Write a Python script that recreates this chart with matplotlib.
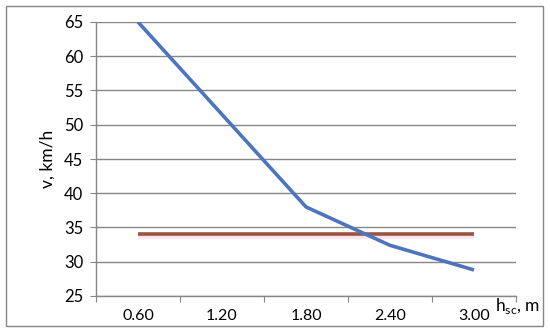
import numpy as np
import matplotlib
matplotlib.use("Agg")
import matplotlib.pyplot as plt
from matplotlib.patches import Rectangle

plt.rcParams['font.family'] = ['Lato', 'DejaVu Sans']
plt.rcParams['mathtext.fontset'] = 'custom'
plt.rcParams['mathtext.rm'] = 'Lato'

# data
categories = ["0.60", "1.20", "1.80", "2.40", "3.00"]
speed = [65.0, 51.5, 38.0, 32.4, 28.8]
limit = [34.0, 34.0, 34.0, 34.0, 34.0]
yticks = [25, 30, 35, 40, 45, 50, 55, 60, 65]

fig = plt.figure(figsize=(5.5, 3.32), dpi=100)
ax = fig.add_axes([96/550, 1 - 296/332, 420/550, 274/332])

x = np.arange(len(categories))
ax.plot(x, limit, color="#FDE6F0", lw=4.5, solid_capstyle="butt", zorder=2,
        transform=ax.transData + matplotlib.transforms.ScaledTranslation(0, -1.0/72, fig.dpi_scale_trans))
ax.plot(x, limit, color="#9B5443", lw=2.6, solid_capstyle="butt", zorder=3)
ax.plot(x, speed, color="#4E74BE", lw=2.6, solid_capstyle="butt", zorder=4)

ax.set_xlim(-0.5, len(categories) - 0.5)
ax.set_ylim(25, 65)
ax.set_yticks(yticks)
ax.set_xticks(np.arange(len(categories) + 1) - 0.5)
ax.set_xticklabels([])
ax.set_xticks(x, minor=True)
ax.set_xticklabels(categories, minor=True)
ax.tick_params(axis="x", which="minor", length=0, pad=9, labelsize=11.5)
ax.tick_params(axis="x", which="major", length=4, color="#868686", direction="out")
ax.tick_params(axis="y", length=4, color="#868686", labelsize=12, pad=5)

ax.grid(axis="y", color="#868686", lw=1)
ax.set_axisbelow(True)
for s in ["top", "right"]:
    ax.spines[s].set_visible(False)
for s in ["left", "bottom"]:
    ax.spines[s].set_color("#868686")
    ax.spines[s].set_linewidth(1)

ax.set_ylabel("v, km/h", fontsize=12.5, labelpad=6)
fig.text(495/550, 1 - 306/332, r"h$_{\mathregular{sc}}$, m", fontsize=12.5,
         ha="left", va="center")

fig.patches.append(Rectangle((6/550, 6/332), 537/550, 320/332, transform=fig.transFigure,
                             fill=False, edgecolor="#868686", lw=1))

fig.savefig("out.png", dpi=100)
